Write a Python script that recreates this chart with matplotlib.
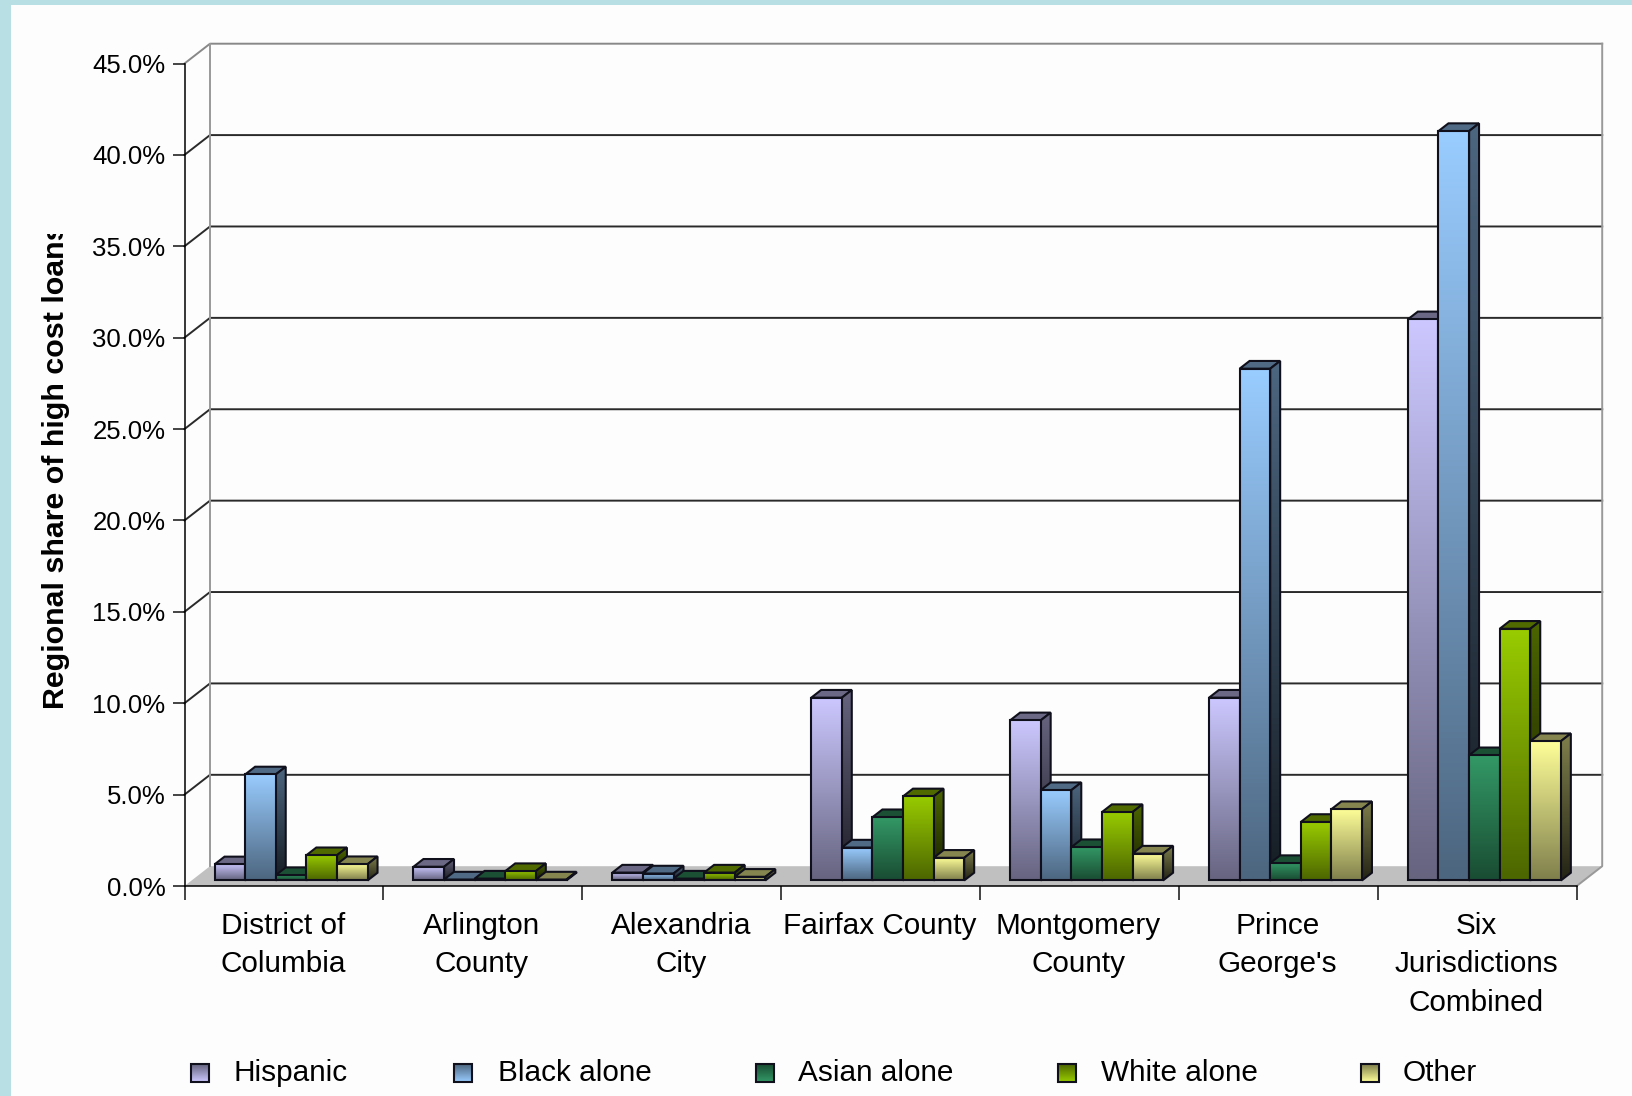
import numpy as np
import matplotlib
matplotlib.use("Agg")
import matplotlib.pyplot as plt
from matplotlib.colors import to_rgb
from matplotlib.patches import Polygon, Rectangle
from matplotlib.transforms import Bbox

plt.rcParams['font.family'] = ['Liberation Sans', 'DejaVu Sans']

categories = ["District of\nColumbia", "Arlington\nCounty", "Alexandria\nCity", "Fairfax County",
              "Montgomery\nCounty", "Prince\nGeorge's", "Six\nJurisdictions\nCombined"]
series_names = ["Hispanic", "Black alone", "Asian alone", "White alone", "Other"]
hispanic = [0.88, 0.75, 0.43, 10.0, 8.76, 10.0, 30.7]
black = [5.8, 0.05, 0.38, 1.8, 4.94, 28.0, 41.0]
asian = [0.29, 0.1, 0.1, 3.46, 1.82, 0.95, 6.85]
white = [1.38, 0.51, 0.43, 4.6, 3.74, 3.2, 13.77]
other = [0.89, 0.05, 0.2, 1.24, 1.47, 3.9, 7.62]
series_values = [hispanic, black, asian, white, other]
series_colors = ["#CCC8FF", "#99CCFF", "#339966", "#99CC00", "#FFFF99"]
y_ticks = [0, 5, 10, 15, 20, 25, 30, 35, 40, 45]

W, H = 1632, 1096
LEFT, RIGHT, TOP, BOTTOM = 184.5, 1576.7, 63.5, 886.0
GROUP_PX = (RIGHT - LEFT) / 7
WALL_DX = 25.5 / GROUP_PX
WALL_DY = 19.8 / ((BOTTOM - TOP) / 45)
BAR_W = 30.6 / GROUP_PX
BAR_FRONT = 0.28
BAR_BACK = 0.67
OUTLINE = "#10101c"


def shade(color, factor):
    return np.array(to_rgb(color)) * factor


def project(x, y, depth):
    return x + depth * WALL_DX, y + depth * WALL_DY


def gradient_fill(axis, points, top_rgb, bottom_rgb, z):
    # vertical gradient clipped to a polygon, with a dark outline
    points = np.array(points)
    ramp = np.linspace(0, 1, 64)[:, None, None]
    img = top_rgb[None, None, :] * (1 - ramp) + bottom_rgb[None, None, :] * ramp
    extent = (points[:, 0].min(), points[:, 0].max(), points[:, 1].min(), points[:, 1].max())
    im = axis.imshow(img, extent=extent, aspect='auto', origin='upper', interpolation='bilinear', zorder=z)
    edge = Polygon(points, closed=True, facecolor='none', edgecolor=OUTLINE, linewidth=1.5,
                   zorder=z + 0.01, clip_on=False)
    axis.add_patch(edge)
    im.set_clip_path(edge)


def draw_bar(axis, x, value, color, z):
    x2 = x + BAR_W
    # top face
    top_pts = [project(x, value, BAR_FRONT), project(x2, value, BAR_FRONT),
               project(x2, value, BAR_BACK), project(x, value, BAR_BACK)]
    axis.add_patch(Polygon(top_pts, closed=True, facecolor=shade(color, 0.52), edgecolor=OUTLINE,
                           linewidth=1.5, zorder=z, clip_on=False))
    # side face
    side_pts = [project(x2, 0, BAR_FRONT), project(x2, value, BAR_FRONT),
                project(x2, value, BAR_BACK), project(x2, 0, BAR_BACK)]
    gradient_fill(axis, side_pts, shade(color, 0.5), shade(color, 0.14), z + 0.1)
    # front face
    front_pts = [project(x, 0, BAR_FRONT), project(x, value, BAR_FRONT),
                 project(x2, value, BAR_FRONT), project(x2, 0, BAR_FRONT)]
    gradient_fill(axis, front_pts, shade(color, 1.0), shade(color, 0.5), z + 0.2)


fig = plt.figure(figsize=(W / 100, H / 100), dpi=100, facecolor="#B8DFE3")

# white panel and legend live in a pixel-sized overlay
bg = fig.add_axes([0, 0, 1, 1], zorder=0)
bg.set_xlim(0, W)
bg.set_ylim(H, 0)
bg.set_autoscale_on(False)
bg.axis('off')
bg.add_patch(Rectangle((11, 5), W - 11, H - 5, facecolor="#FDFDFD", edgecolor='none'))

legend_x = [191, 454, 756, 1058, 1361]
legend_text_x = [234, 498.5, 798, 1101, 1403]
for name, color, lx, tx in zip(series_names, series_colors, legend_x, legend_text_x):
    pts = [(lx, 1064), (lx + 18, 1064), (lx + 18, 1082), (lx, 1082)]
    gradient_fill(bg, pts, shade(color, 1.0), shade(color, 0.5), 2)
    bg.text(tx, 1073, name, fontsize=21.4, color="#000000", va='center', ha='left')

ax = fig.add_axes([LEFT / W, 1 - BOTTOM / H, (RIGHT - LEFT) / W, (BOTTOM - TOP) / H], zorder=1)
ax.patch.set_visible(False)
ax.set_xlim(0, 7)
ax.set_ylim(0, 45)
ax.set_autoscale_on(False)

# floor
floor = [project(0, 0, 0), project(7, 0, 0), project(7, 0, 1), project(0, 0, 1)]
ax.add_patch(Polygon(floor, closed=True, facecolor="#C0C0C0", edgecolor='none', zorder=0.5, clip_on=False))

# back wall and gridlines
for t in y_ticks:
    grid_color = "#888888" if t == 45 else "#2a2a2a"
    if t > 0:
        xs, ys = zip(project(0, t, 0), project(0, t, 1), project(7, t, 1))
        ax.plot(xs, ys, color=grid_color, lw=1.4, zorder=0.6, clip_on=False)
xs, ys = zip(project(0, 0, 1), project(0, 45, 1))
ax.plot(xs, ys, color="#999999", lw=1.4, zorder=0.6, clip_on=False)
xs, ys = zip(project(7, 0, 0), project(7, 0, 1), project(7, 45, 1))
ax.plot(xs, ys, color="#999999", lw=1.4, zorder=0.6, clip_on=False)

# bars, left to right so later ones overlap the sides of earlier ones
gap = (1 - 5 * BAR_W) / 2
z = 1
for g in range(len(categories)):
    for s, values in enumerate(series_values):
        draw_bar(ax, g + gap + s * BAR_W, values[g], series_colors[s], z)
        z += 1

ax.set_yticks(y_ticks)
ax.set_yticklabels([f"{t:.1f}%" for t in y_ticks], fontsize=18.5, color="#000000")
ax.set_xticks(range(8))
ax.set_xticklabels([])
ax.set_xticks(np.arange(7) + 0.495, minor=True)
ax.set_xticklabels(categories, minor=True, fontsize=21.4, color="#000000", linespacing=1.49)
ax.tick_params(axis='y', length=8.3, width=1.1, pad=5.5, color="#111111")
ax.tick_params(axis='x', which='major', length=10, width=1.1, color="#111111")
ax.tick_params(axis='x', which='minor', length=0, pad=18.4)
ax.spines['top'].set_visible(False)
ax.spines['right'].set_visible(False)
ax.spines['left'].set_linewidth(1.1)
ax.spines['bottom'].set_linewidth(1.1)
ax.spines['left'].set_zorder(500)
ax.spines['bottom'].set_zorder(500)

# y label is cut off at the top in the original
fig.text(56.5 / W, 1 - 709 / H, "Regional share of high cost loans", rotation=90, fontsize=21.9,
         fontweight='bold', color="#000000", ha='center', va='bottom', clip_on=True,
         clip_box=Bbox([[0, 0], [W, H - 234]]), zorder=3)

fig.savefig("out.png", dpi=100, facecolor=fig.get_facecolor())
plt.close(fig)
